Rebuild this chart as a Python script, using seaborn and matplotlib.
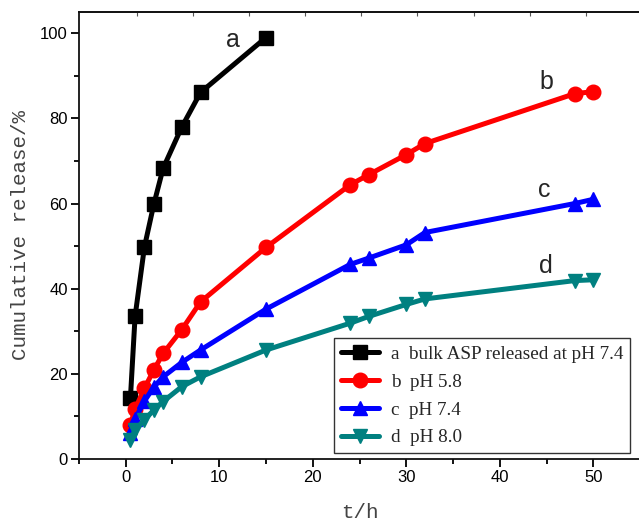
import seaborn as sns
import pandas as pd
import matplotlib.pyplot as plt
import matplotlib
from matplotlib.ticker import MultipleLocator
import numpy as np
matplotlib.use('Agg')

# release data
t_a = [0.5, 1, 2, 3, 4, 6, 8, 15]
v_a = [14.3, 33.5, 49.8, 59.8, 68.3, 78.0, 86.1, 99.0]

t_bcd = [0.5, 1, 2, 3, 4, 6, 8, 15, 24, 26, 30, 32, 48, 50]
v_b = [8.1, 11.7, 16.6, 20.9, 24.8, 30.4, 36.9, 49.7, 64.4, 66.8, 71.5, 74.1, 85.8, 86.3]
v_c = [6.2, 9.4, 13.6, 16.9, 19.3, 22.7, 25.6, 35.2, 45.7, 47.2, 50.3, 53.2, 60.0, 61.0]
v_d = [4.5, 6.8, 9.2, 11.5, 13.5, 17.0, 19.3, 25.6, 31.9, 33.5, 36.3, 37.6, 41.9, 42.1]

labels = ["a  bulk ASP released at pH 7.4", "b  pH 5.8", "c  pH 7.4", "d  pH 8.0"]
letters = ["a", "b", "c", "d"]
letter_pos = [(11.5, 98.4), (45.0, 88.6), (44.8, 63.1), (44.9, 45.3)]
top_ticks = [1.2, 7.2, 13.2, 19.2, 25.2, 31.2, 37.2, 43.2, 49.2]

colors = ["#000000", "#FF0000", "#0000FF", "#008080"]
markers = ["s", "o", "^", "v"]

sns.set_style("ticks")

df = pd.concat([
    pd.DataFrame({"t": t_a, "v": v_a, "s": labels[0]}),
    pd.DataFrame({"t": t_bcd, "v": v_b, "s": labels[1]}),
    pd.DataFrame({"t": t_bcd, "v": v_c, "s": labels[2]}),
    pd.DataFrame({"t": t_bcd, "v": v_d, "s": labels[3]}),
])

fig = plt.figure(figsize=(6.39, 5.26), dpi=100)
ax = fig.add_axes([0.1236, 0.1274, 0.878, 0.8498])

for lab, col, mk in zip(labels, colors, markers):
    sns.lineplot(data=df[df["s"] == lab], x="t", y="v", ax=ax,
                 color=col, marker=mk, markersize=10.5, markeredgecolor=col,
                 markeredgewidth=1, linewidth=3.6, label=lab)

for let, (x, y) in zip(letters, letter_pos):
    ax.text(x, y, let, fontsize=18, family="Liberation Sans", ha="center", va="center")

ax.set_xlim(-5, 55)
ax.set_ylim(0, 105)
ax.xaxis.set_major_locator(MultipleLocator(10))
ax.xaxis.set_minor_locator(MultipleLocator(5))
ax.yaxis.set_major_locator(MultipleLocator(20))
ax.yaxis.set_minor_locator(MultipleLocator(10))
ax.tick_params(axis='both', which='major', length=5.5, width=1.3, labelsize=12, pad=2.5,
               direction='out', color='black', labelcolor='black')
ax.tick_params(axis='both', which='minor', length=3.5, width=1.3, direction='out', color='black')
for lbl in ax.get_xticklabels() + ax.get_yticklabels():
    lbl.set_family("Liberation Sans")
for sp in ax.spines.values():
    sp.set_linewidth(1.3)
    sp.set_color("#111111")

top = ax.secondary_xaxis('top')
top.set_xticks(top_ticks)
top.set_xticklabels([])
top.tick_params(direction='in', length=3, width=0.8, color="#555555")
top.spines['top'].set_linewidth(1.3)

ax.set_xlabel("t/h", fontsize=15, family="Liberation Mono", color="#444444", labelpad=13)
ax.set_ylabel("Cumulative release/%", fontsize=15, family="Liberation Mono", color="#444444", labelpad=7)

leg = ax.legend(loc="lower right", bbox_to_anchor=(0.982, 0.013), borderaxespad=0,
                prop={"family": "Liberation Serif", "size": 13.8},
                frameon=True, fancybox=False, edgecolor="black",
                handlelength=2.0, labelspacing=0.55, handletextpad=0.6, borderpad=0.35)
leg.get_frame().set_linewidth(1.0)

fig.savefig("out.png", dpi=100)
